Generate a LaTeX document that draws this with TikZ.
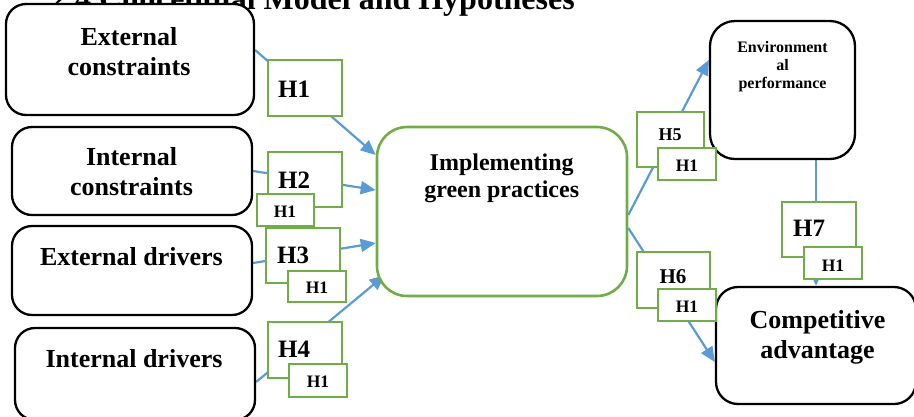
\documentclass[tikz,border=0pt]{standalone}
\usepackage{fontspec}
\setmainfont{Liberation Serif}
\usetikzlibrary{arrows.meta}
\definecolor{bluearr}{HTML}{5B9BD5}
\definecolor{greenbox}{HTML}{70AD47}
\pgfdeclarelayer{back}
\pgfdeclarelayer{bg}
\pgfsetlayers{back,bg,main}
\tikzset{
  blackbox/.style={draw=black, line width=2.3pt, rounded corners=20pt, fill=white, inner sep=0pt},
  greenround/.style={draw=greenbox, line width=2.6pt, rounded corners=30pt, fill=white, inner sep=0pt},
  greenbig/.style={draw=greenbox, line width=2.6pt, fill=white, inner sep=0pt},
  greensmall/.style={draw=greenbox, line width=1.2pt, fill=white, inner sep=0pt},
  arr/.style={draw=bluearr, line width=2.2pt, -{Triangle[length=15pt,width=13pt]}},
  btext/.style={font=\bfseries\fontsize{26}{30}\selectfont, align=center, inner sep=0pt, anchor=north},
  htext/.style={font=\bfseries\fontsize{25}{28}\selectfont, inner sep=0pt, anchor=base west},
  stext/.style={font=\bfseries\fontsize{17.5}{20}\selectfont, inner sep=0pt, anchor=base},
}
\begin{document}
\begin{tikzpicture}[x=1pt,y=-1pt]
\useasboundingbox (0,0) rectangle (914,416);
\clip (0,0) rectangle (914,416);
% title (partly hidden, cut at the top as in the reference)
\begin{pgfonlayer}{back}
\node[font=\bfseries\fontsize{32}{36}\selectfont, anchor=base east, inner sep=0pt] (title) at (575,9) {2.4 Conceptual Model and Hypotheses};
\end{pgfonlayer}
% main boxes
\node[blackbox, minimum width=248pt, minimum height=111pt] (ec) at (130,59.5) {};
\node[blackbox, minimum width=240pt, minimum height=88pt] (ic) at (132,171) {};
\node[blackbox, minimum width=240pt, minimum height=89pt] (ed) at (132,270.5) {};
\node[blackbox, minimum width=240pt, minimum height=92pt] (id) at (135,374) {};
\node[greenround, minimum width=250pt, minimum height=169pt] (gp) at (502,211.5) {};
\node[blackbox, rounded corners=25pt, minimum width=145pt, minimum height=138pt] (env) at (782.5,90) {};
\node[blackbox, rounded corners=22pt, minimum width=200pt, minimum height=117pt] (ca) at (816,345.5) {};
% texts of boxes
\node[btext] (ect) at (129,27) {External\\constraints};
\node[btext] (ict) at (131.5,147) {Internal\\constraints};
\node[btext] (edt) at (131.5,247) {External drivers};
\node[btext] (idt) at (134,349) {Internal drivers};
\node[btext, font=\bfseries\fontsize{24}{27}\selectfont] (gpt) at (501.7,153.5) {Implementing\\green practices};
\node[btext, font=\bfseries\fontsize{16}{18}\selectfont] (envt) at (782.5,41) {Environment\\al\\performance};
\node[btext] (cat) at (817.5,310) {Competitive\\advantage};
% connectors
\begin{pgfonlayer}{bg}
\draw[arr] ([yshift=9.5pt]ec.east) -- ([yshift=56.5pt]gp.west);
\draw[arr] (ic.east) -- ([yshift=21.5pt]gp.west);
\draw[arr] ([yshift=7.5pt]ed.east) -- ([yshift=-31.5pt]gp.west);
\draw[arr] ([yshift=-8pt]id.east) -- ([xshift=9pt,yshift=22pt]gp.south west);
\draw[arr] ([yshift=-3.5pt]gp.east) -- ([yshift=30pt]env.west);
\draw[arr] ([yshift=-16.5pt]gp.east) -- ([yshift=-16.5pt]ca.west);
\draw[arr] ([xshift=33.5pt,yshift=9pt]env.south) -- (ca.north);
\end{pgfonlayer}
% hypothesis boxes
\node[greenbig, minimum width=74pt, minimum height=56pt] (h1b) at (305,88) {};
\node[greenbig, minimum width=74pt, minimum height=55pt] (h2b) at (305,179.5) {};
\node[greenbig, minimum width=74pt, minimum height=55pt] (h3b) at (303,255.5) {};
\node[greenbig, minimum width=74pt, minimum height=56pt] (h4b) at (305,350) {};
\node[greenbig, minimum width=67pt, minimum height=55pt] (h5b) at (670.5,139.5) {};
\node[greenbig, minimum width=73pt, minimum height=56pt] (h6b) at (673.5,280) {};
\node[greenbig, minimum width=74pt, minimum height=55pt] (h7b) at (819,229.5) {};
\node[htext] (h1t) at (278,97) {H1};
\node[htext] (h2t) at (278,188) {H2};
\node[htext] (h3t) at (277,263) {H3};
\node[htext] (h4t) at (278,357) {H4};
\node[htext, font=\bfseries\fontsize{18}{20}\selectfont, anchor=base] (h5t) at (670,140) {H5};
\node[htext, font=\bfseries\fontsize{21}{24}\selectfont, anchor=base] (h6t) at (673,283) {H6};
\node[htext] (h7t) at (793,236) {H7};
% small H1 boxes
\node[greensmall, minimum width=57pt, minimum height=32pt] (s2) at (285.5,210) {};
\node[greensmall, minimum width=58pt, minimum height=31pt] (s3) at (317,286.5) {};
\node[greensmall, minimum width=58pt, minimum height=33pt] (s4) at (318,380.5) {};
\node[greensmall, minimum width=58pt, minimum height=32pt] (s5) at (687,164) {};
\node[greensmall, minimum width=58pt, minimum height=32pt] (s6) at (687,305) {};
\node[greensmall, minimum width=58pt, minimum height=32pt] (s7) at (833,263) {};
\node[stext] (s2t) at (285,217) {H1};
\node[stext] (s3t) at (317,293) {H1};
\node[stext] (s4t) at (318,387) {H1};
\node[stext] (s5t) at (687,171) {H1};
\node[stext] (s6t) at (687,312) {H1};
\node[stext] (s7t) at (833,271) {H1};
\end{tikzpicture}
\end{document}
